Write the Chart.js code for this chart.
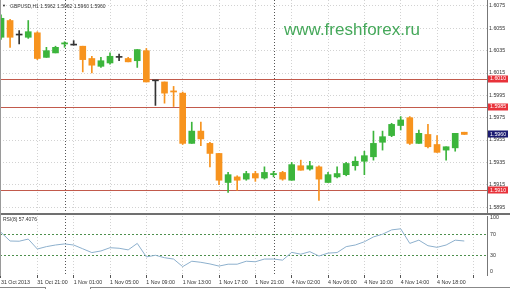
<!DOCTYPE html>
<html>
<head>
<meta charset="utf-8">
<script src="https://cdn.jsdelivr.net/npm/chart.js@4.4.1/dist/chart.umd.min.js"></script>
<style>
  body { margin: 0; background: #fff; }
  #wrap { position: relative; width: 510px; height: 289px; overflow: hidden; font-family: "Liberation Sans", Arial, sans-serif; }
  canvas { position: absolute; left: 0; }
  .txt { position: absolute; white-space: nowrap; line-height: 1; }
  .line { position: absolute; }
</style>
</head>
<body>
<div id="wrap">
  <canvas id="priceChart" width="510" height="213" style="top:0"></canvas>
  <div class="line" style="left:0;top:213px;width:510px;height:2px;background:#707070"></div>
  <canvas id="rsiChart" width="510" height="74" style="top:215px"></canvas>
  <div class="line" style="left:0;top:0;width:1px;height:276px;background:#9a9a9a"></div>
  <div class="line" style="left:0;top:287px;width:45px;height:2px;border-top:1px solid #888;border-right:1px solid #888"></div>
  <div class="line" style="left:90px;top:287px;width:420px;height:2px;border-top:1px solid #888;border-left:1px solid #888"></div>
  <div class="txt" style="left:2px;top:4px;font-size:4px;color:#222">&#9660;</div>
  <div class="txt" style="left:10px;top:4px;font-size:5px;color:#333">GBPUSD,H1 1.5962 1.5962 1.5960 1.5960</div>
  <div class="txt" style="left:284px;top:21px;font-size:17px;color:#45a85a">www.freshforex.ru</div>
  <div class="txt" style="left:3px;top:217px;font-size:5px;color:#333">RSI(8) 57.4076</div>
</div>
<script>
const timeLabels = ['31 Oct 2013', '31 Oct 21:00', '1 Nov 01:00', '1 Nov 05:00', '1 Nov 09:00', '1 Nov 13:00', '1 Nov 17:00', '1 Nov 21:00', '4 Nov 02:00', '4 Nov 06:00', '4 Nov 10:00', '4 Nov 14:00', '4 Nov 18:00'];

const opens = [1.6047, 1.6062, 1.6049, 1.6047, 1.6051, 1.6029, 1.6033, 1.6041, 1.6040, 1.6039,
	1.6028, 1.6021, 1.6024, 1.6029, 1.6028, 1.6026, 1.6035, 1.6008, 1.6007, 1.5999,
	1.5997, 1.5952, 1.5963, 1.5952, 1.5943, 1.5917, 1.5922, 1.5920, 1.5925, 1.5921,
	1.5924, 1.5926, 1.5919, 1.5932, 1.5929, 1.5931, 1.5917, 1.5922, 1.5924, 1.5932,
	1.5936, 1.5940, 1.5953, 1.5959, 1.5968, 1.5975, 1.5952, 1.5960, 1.5951, 1.5946,
	1.5948, 1.5962];
const highs = [1.6067, 1.6063, 1.6053, 1.6062, 1.6052, 1.6038, 1.6039, 1.6043, 1.6044, 1.6039,
	1.6030, 1.6029, 1.6033, 1.6032, 1.6029, 1.6036, 1.6037, 1.6008, 1.6007, 1.6003,
	1.5998, 1.5971, 1.5971, 1.5953, 1.5943, 1.5926, 1.5923, 1.5927, 1.5927, 1.5931,
	1.5927, 1.5927, 1.5935, 1.5937, 1.5936, 1.5932, 1.5926, 1.5931, 1.5935, 1.5940,
	1.5945, 1.5963, 1.5963, 1.5970, 1.5976, 1.5976, 1.5964, 1.5969, 1.5959, 1.5949,
	1.5961, 1.5962];
const lows = [1.6045, 1.6038, 1.6041, 1.6046, 1.6027, 1.6029, 1.6033, 1.6038, 1.6040, 1.6016,
	1.6015, 1.6020, 1.6023, 1.6026, 1.6025, 1.6020, 1.6007, 1.5986, 1.5988, 1.5985,
	1.5951, 1.5952, 1.5950, 1.5931, 1.5915, 1.5908, 1.5910, 1.5919, 1.5918, 1.5920,
	1.5922, 1.5919, 1.5919, 1.5928, 1.5928, 1.5901, 1.5917, 1.5921, 1.5923, 1.5928,
	1.5924, 1.5937, 1.5946, 1.5958, 1.5964, 1.5951, 1.5952, 1.5948, 1.5944, 1.5937,
	1.5945, 1.5960];
const closes = [1.6064, 1.6047, 1.6049, 1.6052, 1.6028, 1.6035, 1.6038, 1.6042, 1.6040, 1.6027,
	1.6022, 1.6026, 1.6030, 1.6029, 1.6025, 1.6036, 1.6007, 1.6008, 1.5997, 1.5998,
	1.5952, 1.5963, 1.5956, 1.5943, 1.5919, 1.5924, 1.5919, 1.5925, 1.5921, 1.5926,
	1.5925, 1.5920, 1.5933, 1.5928, 1.5932, 1.5920, 1.5924, 1.5925, 1.5934, 1.5936,
	1.5941, 1.5952, 1.5958, 1.5969, 1.5973, 1.5952, 1.5961, 1.5949, 1.5944, 1.5949,
	1.5961, 1.5960];

const rsiValues = [73.5, 57.4, 57, 61, 42.6, 47, 50, 52, 50, 43,
	36, 39, 45, 44, 41, 53, 28, 31, 26.5, 24,
	10, 20, 18, 15, 11, 14.5, 14.5, 20, 19, 24,
	24, 22, 36.4, 33, 37.7, 29.6, 35, 36, 47, 50,
	56, 65, 70, 78, 80, 53, 59, 48.7, 45.7, 50,
	59, 57.4076];

const priceTicks = [1.6075, 1.6055, 1.6035, 1.6015, 1.5995, 1.5975, 1.5955, 1.5935, 1.5915, 1.5895];
const rsiTicks = [0, 30, 70, 100];
const levels = [1.6010, 1.5985, 1.5910];
const daySeparators = [7, 30];
const gridIdx = [0, 4, 8, 12, 16, 20, 24, 28, 32, 36, 40, 44, 48, 52];

const xMin = -0.11, xMax = 53.5;
const axisFont = { size: 5.3, family: 'Liberation Sans' };
const gridColor = '#d2d2d2';

function candleColor(i) {
	if (closes[i] > opens[i]) return '#3cb53c';
	if (closes[i] < opens[i]) return '#f7931e';
	return '#333333';
}

// day separators, drawn in both panels
const separatorPlugin = {
	id: 'separators',
	beforeDatasetsDraw(chart) {
		const { ctx, chartArea, scales } = chart;
		ctx.save();
		ctx.strokeStyle = '#555';
		ctx.lineWidth = 1;
		ctx.setLineDash([1, 2]);
		daySeparators.forEach(i => {
			const x = Math.round(scales.x.getPixelForValue(i)) + 0.5;
			ctx.beginPath();
			ctx.moveTo(x, chartArea.top);
			ctx.lineTo(x, chartArea.bottom);
			ctx.stroke();
		});
		ctx.restore();
	}
};

const levelsPlugin = {
	id: 'levels',
	beforeDatasetsDraw(chart) {
		const { ctx, chartArea, scales } = chart;
		ctx.save();
		ctx.strokeStyle = '#c25a4c';
		ctx.lineWidth = 1;
		levels.forEach(v => {
			const y = Math.round(scales.y.getPixelForValue(v)) + 0.5;
			ctx.beginPath();
			ctx.moveTo(chartArea.left, y);
			ctx.lineTo(chartArea.right, y);
			ctx.stroke();
		});
		ctx.restore();
	},
	afterDraw(chart) {
		const { ctx, chartArea, scales } = chart;
		const boxes = levels.map(v => ({ v, fill: '#e8323a' }));
		boxes.push({ v: closes[closes.length - 1], fill: '#1c1c72' });
		ctx.save();
		ctx.font = '5.3px "Liberation Sans"';
		ctx.textBaseline = 'middle';
		boxes.forEach(b => {
			const y = scales.y.getPixelForValue(b.v);
			ctx.fillStyle = b.fill;
			ctx.fillRect(chartArea.right + 1, Math.round(y) - 3.5, 20, 7);
			ctx.fillStyle = '#fff';
			ctx.fillText(b.v.toFixed(4), chartArea.right + 3, y);
		});
		ctx.restore();
	}
};

new Chart(document.getElementById('priceChart'), {
	type: 'bar',
	data: {
		datasets: [{
			label: 'body',
			data: opens.map((o, i) => ({ x: i, y: [o, closes[i]] })),
			backgroundColor: ctx => candleColor(ctx.dataIndex),
			barThickness: 6,
			minBarLength: 1,
			grouped: false,
			order: 1
		}, {
			label: 'wick',
			data: lows.map((l, i) => ({ x: i, y: [l, highs[i]] })),
			backgroundColor: ctx => candleColor(ctx.dataIndex),
			barThickness: 1,
			grouped: false,
			order: 2
		}]
	},
	options: {
		responsive: false,
		animation: false,
		events: [],
		layout: { padding: 0 },
		plugins: {
			legend: { display: false },
			tooltip: { enabled: false }
		},
		scales: {
			x: {
				type: 'linear',
				min: xMin,
				max: xMax,
				offset: false,
				afterBuildTicks: s => { s.ticks = gridIdx.map(v => ({ value: v })); },
				afterFit: s => { s.height = 0; s.paddingLeft = 0; s.paddingRight = 0; },
				ticks: { display: false },
				grid: { color: gridColor, drawTicks: false, offset: false },
				border: { display: false, dash: [1, 2] }
			},
			y: {
				position: 'right',
				min: 1.588968,
				max: 1.608037,
				afterBuildTicks: s => { s.ticks = priceTicks.map(v => ({ value: v })); },
				afterFit: s => { s.width = 23; s.paddingTop = 0; s.paddingBottom = 0; },
				ticks: {
					font: axisFont,
					color: '#333',
					padding: 2,
					autoSkip: false,
					callback: v => v.toFixed(4)
				},
				grid: { color: gridColor, drawTicks: false },
				border: { display: true, color: '#777', dash: [1, 2] }
			}
		}
	},
	plugins: [separatorPlugin, levelsPlugin]
});

new Chart(document.getElementById('rsiChart'), {
	type: 'line',
	data: {
		datasets: [{
			label: 'RSI(8)',
			data: rsiValues.map((v, i) => ({ x: i, y: v })),
			borderColor: '#8db0cd',
			borderWidth: 1,
			pointRadius: 0,
			tension: 0
		}]
	},
	options: {
		responsive: false,
		animation: false,
		events: [],
		layout: { padding: { top: 1 } },
		plugins: {
			legend: { display: false },
			tooltip: { enabled: false }
		},
		scales: {
			x: {
				type: 'linear',
				min: xMin,
				max: xMax,
				offset: false,
				afterBuildTicks: s => { s.ticks = gridIdx.map(v => ({ value: v })); },
				afterFit: s => { s.height = 14; s.paddingLeft = 0; s.paddingRight = 0; },
				ticks: {
					align: 'start',
					minRotation: 0,
					maxRotation: 0,
					autoSkip: false,
					font: axisFont,
					color: '#333',
					padding: 1,
					callback: v => timeLabels[v / 4] || ''
				},
				grid: { color: gridColor, tickColor: '#555', tickLength: 3, offset: false },
				border: { display: false, dash: [1, 2] }
			},
			y: {
				position: 'right',
				min: -5.5,
				max: 103.7,
				afterBuildTicks: s => { s.ticks = rsiTicks.map(v => ({ value: v })); },
				afterFit: s => { s.width = 23; s.paddingTop = 0; s.paddingBottom = 0; },
				ticks: { font: axisFont, color: '#333', padding: 3, autoSkip: false },
				grid: {
					color: ctx => (ctx.tick && (ctx.tick.value === 30 || ctx.tick.value === 70)) ? '#4d8f4d' : 'rgba(0,0,0,0)',
					drawTicks: false
				},
				border: { display: true, color: '#777', dash: [2, 2] }
			}
		}
	},
	plugins: [separatorPlugin]
});
</script>
</body>
</html>
